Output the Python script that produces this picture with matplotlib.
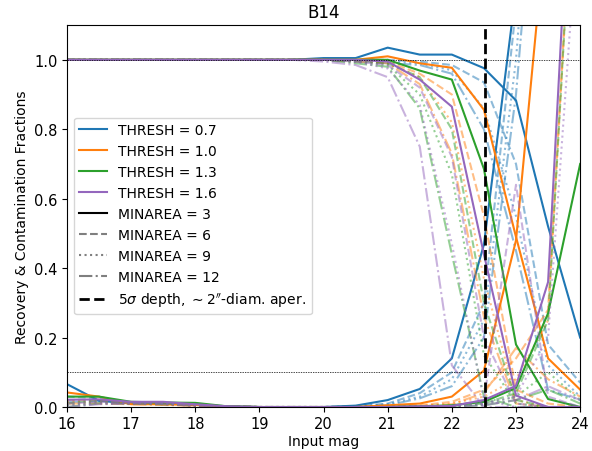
import numpy as np
import matplotlib
matplotlib.use("Agg")
import matplotlib.pyplot as plt
from matplotlib.lines import Line2D

# input magnitudes of the injected sources
mag = [16.0, 16.5, 17.0, 17.5, 18.0, 18.5, 19.0, 19.5, 20.0,
       20.5, 21.0, 21.5, 22.0, 22.5, 23.0, 23.5, 24.0]

thresh = [0.7, 1.0, 1.3, 1.6]
minarea = [3, 6, 9, 12]
styles = ['-', '--', ':', '-.']
colors = ['#1f77b4', '#ff7f0e', '#2ca02c', '#9467bd']

depth = 22.52   # 5 sigma depth, 2" aperture

# recovery fractions, one row per MINAREA (3, 6, 9, 12)
rec_t07 = [
    [1.0, 1.0, 1.0, 1.0, 1.0, 1.0, 1.0, 1.0, 1.005, 1.005, 1.035, 1.015, 1.015, 0.976, 0.883, 0.52, 0.20],
    [1.0, 1.0, 1.0, 1.0, 1.0, 1.0, 1.0, 1.0, 1.0, 1.0, 1.0, 0.995, 0.985, 0.935, 0.70, 0.18, 0.07],
    [1.0, 1.0, 1.0, 1.0, 1.0, 1.0, 1.0, 1.0, 1.0, 0.998, 0.995, 0.99, 0.97, 0.86, 0.55, 0.12, 0.03],
    [1.0, 1.0, 1.0, 1.0, 1.0, 1.0, 1.0, 1.0, 1.0, 0.995, 0.99, 0.985, 0.96, 0.80, 0.45, 0.05, 0.02],
]
rec_t10 = [
    [1.0, 1.0, 1.0, 1.0, 1.0, 1.0, 1.0, 1.0, 1.0, 1.0, 1.01, 0.99, 0.977, 0.856, 0.49, 0.14, 0.05],
    [1.0, 1.0, 1.0, 1.0, 1.0, 1.0, 1.0, 1.0, 1.0, 0.998, 0.995, 0.96, 0.90, 0.55, 0.05, 0.01, 0.0],
    [1.0, 1.0, 1.0, 1.0, 1.0, 1.0, 1.0, 1.0, 1.0, 0.997, 0.99, 0.95, 0.82, 0.37, 0.02, 0.0, 0.0],
    [1.0, 1.0, 1.0, 1.0, 1.0, 1.0, 1.0, 1.0, 1.0, 0.995, 0.99, 0.93, 0.73, 0.26, 0.01, 0.0, 0.0],
]
rec_t13 = [
    [1.0, 1.0, 1.0, 1.0, 1.0, 1.0, 1.0, 1.0, 1.0, 1.0, 1.0, 0.969, 0.943, 0.686, 0.18, 0.023, 0.0],
    [1.0, 1.0, 1.0, 1.0, 1.0, 1.0, 1.0, 1.0, 1.0, 0.997, 0.99, 0.95, 0.80, 0.30, 0.02, 0.0, 0.0],
    [1.0, 1.0, 1.0, 1.0, 1.0, 1.0, 1.0, 1.0, 1.0, 0.995, 0.985, 0.90, 0.67, 0.15, 0.01, 0.0, 0.0],
    [1.0, 1.0, 1.0, 1.0, 1.0, 1.0, 1.0, 1.0, 1.0, 0.99, 0.98, 0.86, 0.44, 0.03, 0.0, 0.0, 0.0],
]
rec_t16 = [
    [1.0, 1.0, 1.0, 1.0, 1.0, 1.0, 1.0, 1.0, 1.0, 1.0, 0.995, 0.943, 0.865, 0.44, 0.033, 0.0, 0.0],
    [1.0, 1.0, 1.0, 1.0, 1.0, 1.0, 1.0, 1.0, 1.0, 0.995, 0.985, 0.92, 0.72, 0.20, 0.01, 0.0, 0.0],
    [1.0, 1.0, 1.0, 1.0, 1.0, 1.0, 1.0, 1.0, 1.0, 0.995, 0.975, 0.87, 0.47, 0.02, 0.0, 0.0, 0.0],
    [1.0, 1.0, 1.0, 1.0, 1.0, 1.0, 1.0, 1.0, 0.995, 0.985, 0.95, 0.75, 0.12, 0.0, 0.0, 0.0, 0.0],
]

# contamination fractions, same layout
con_t07 = [
    [0.066, 0.018, 0.01, 0.01, 0.006, 0.002, 0.0, 0.0, 0.0, 0.004, 0.02, 0.052, 0.14, 0.468, 1.2, 2.4, 3.0],
    [0.03, 0.025, 0.012, 0.01, 0.005, 0.002, 0.0, 0.0, 0.0, 0.002, 0.01, 0.04, 0.10, 0.30, 1.15, 2.3, 2.8],
    [0.02, 0.02, 0.01, 0.008, 0.004, 0.001, 0.0, 0.0, 0.0, 0.001, 0.008, 0.03, 0.08, 0.25, 1.0, 2.2, 2.6],
    [0.015, 0.015, 0.01, 0.008, 0.004, 0.001, 0.0, 0.0, 0.0, 0.001, 0.005, 0.025, 0.06, 0.20, 0.9, 2.0, 2.5],
]
con_t10 = [
    [0.042, 0.03, 0.008, 0.008, 0.006, 0.001, 0.0, 0.0, 0.0, 0.0, 0.005, 0.01, 0.03, 0.105, 0.48, 1.45, 2.5],
    [0.02, 0.02, 0.01, 0.008, 0.004, 0.001, 0.0, 0.0, 0.0, 0.0, 0.002, 0.005, 0.015, 0.05, 0.14, 0.28, 1.9],
    [0.015, 0.015, 0.01, 0.008, 0.004, 0.001, 0.0, 0.0, 0.0, 0.0, 0.001, 0.003, 0.01, 0.03, 0.08, 0.25, 1.9],
    [0.01, 0.01, 0.008, 0.006, 0.003, 0.001, 0.0, 0.0, 0.0, 0.0, 0.001, 0.002, 0.008, 0.04, 0.17, 0.08, 0.03],
]
con_t13 = [
    [0.03, 0.03, 0.015, 0.013, 0.012, 0.002, 0.0, 0.0, 0.0, 0.0, 0.0, 0.002, 0.005, 0.015, 0.055, 0.27, 0.70],
    [0.01, 0.02, 0.012, 0.01, 0.008, 0.002, 0.0, 0.0, 0.0, 0.0, 0.0, 0.001, 0.003, 0.01, 0.04, 0.25, 1.9],
    [0.005, 0.015, 0.01, 0.01, 0.006, 0.001, 0.0, 0.0, 0.0, 0.0, 0.0, 0.001, 0.002, 0.008, 0.03, 0.10, 0.02],
    [0.0, 0.01, 0.01, 0.008, 0.005, 0.001, 0.0, 0.0, 0.0, 0.0, 0.0, 0.0, 0.001, 0.005, 0.02, 0.05, 0.01],
]
con_t16 = [
    [0.021, 0.022, 0.015, 0.015, 0.008, 0.002, 0.0, 0.0, 0.0, 0.0, 0.0, 0.002, 0.003, 0.02, 0.061, 0.36, 2.1],
    [0.01, 0.015, 0.012, 0.012, 0.006, 0.001, 0.0, 0.0, 0.0, 0.0, 0.0, 0.001, 0.002, 0.02, 0.64, 0.03, 0.0],
    [0.005, 0.01, 0.01, 0.01, 0.005, 0.001, 0.0, 0.0, 0.0, 0.0, 0.0, 0.0, 0.001, 0.01, 0.03, 0.20, 1.5],
    [0.0, 0.008, 0.01, 0.008, 0.004, 0.001, 0.0, 0.0, 0.0, 0.0, 0.0, 0.0, 0.001, 0.005, 0.02, 0.06, 0.02],
]

rec = [rec_t07, rec_t10, rec_t13, rec_t16]
con = [con_t07, con_t10, con_t13, con_t16]

fig = plt.figure(figsize=(5.92, 4.52), dpi=100)
ax = fig.add_axes([0.113, 0.0973, 0.867, 0.845])

for i in range(len(thresh)):
    for j in range(len(minarea)):
        a = 1.0 if j == 0 else 0.5
        ax.plot(mag, rec[i][j], color=colors[i], ls=styles[j], lw=1.5, alpha=a)
        ax.plot(mag, con[i][j], color=colors[i], ls=styles[j], lw=1.5, alpha=a)

ax.axhline(1.0, color='k', ls='--', lw=0.5, dashes=(2, 1.5))
ax.axhline(0.1, color='k', ls='--', lw=0.5, dashes=(2, 1.5))
ax.axvline(depth, color='k', ls='--', lw=2)

ax.set_xlim(16, 24)
ax.set_ylim(0, 1.1)
ax.set_xticks(np.arange(16, 25, 1))
ax.set_yticks(np.arange(0, 1.01, 0.2))
ax.tick_params(labelsize=10.5, pad=3)
ax.set_xlabel('Input mag', labelpad=2)
ax.set_ylabel('Recovery & Contamination Fractions')
ax.set_title('B14', fontsize=12)

# legend: colours for THRESH, line styles for MINAREA
handles = []
for i in range(len(thresh)):
    handles.append(Line2D([], [], color=colors[i], ls='-', lw=1.5,
                          label='THRESH = {}'.format(thresh[i])))
for j in range(len(minarea)):
    a = 1.0 if j == 0 else 0.5
    handles.append(Line2D([], [], color='k', ls=styles[j], lw=1.5, alpha=a,
                          label='MINAREA = {}'.format(minarea[j])))
handles.append(Line2D([], [], color='k', ls='--', lw=2,
                      label=r"5$\sigma$ depth, $\sim2''$-diam. aper."))
ax.legend(handles=handles, loc='center left')

fig.savefig('out.png', dpi=100)
